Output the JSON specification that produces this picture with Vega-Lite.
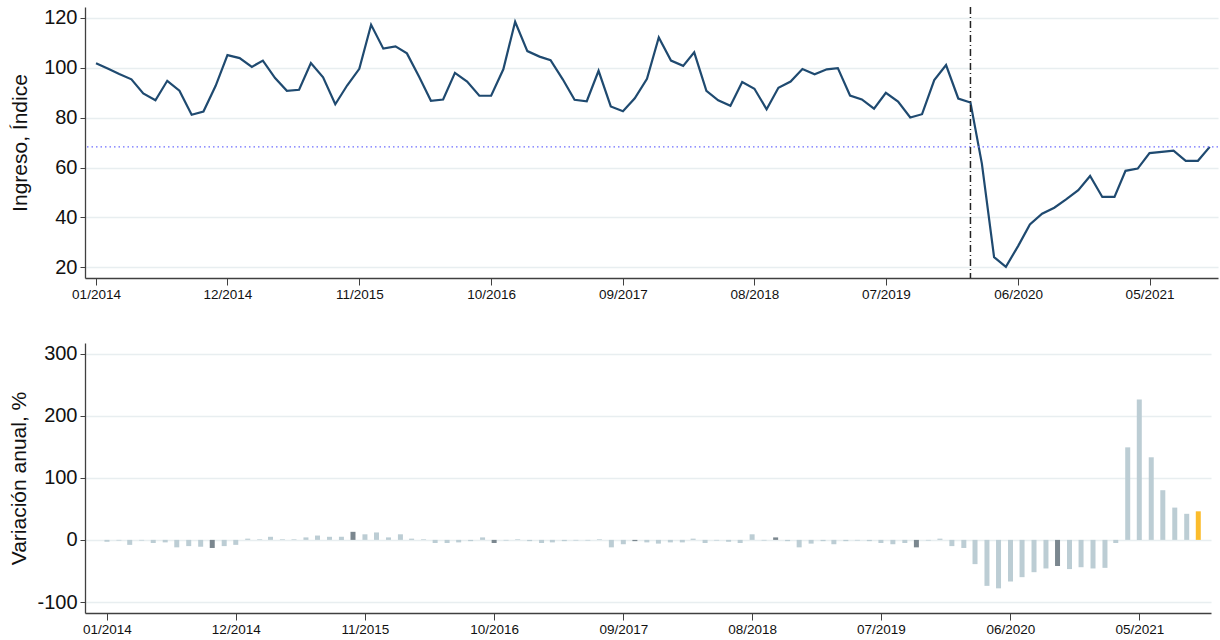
{
  "$schema": "https://vega.github.io/schema/vega-lite/v6.json",
  "background": "white",
  "padding": {"left": 8, "top": 6, "right": 2, "bottom": 0},
  "columns": 1,
  "align": "none",
  "center": true,
  "spacing": 42,
  "config": {
    "font": "Liberation Sans",
    "view": {"stroke": null},
    "axis": {
      "domainColor": "#404040",
      "tickColor": "#404040",
      "labelColor": "#111111",
      "titleColor": "#111111",
      "gridColor": "#e8eef0",
      "gridWidth": 1.5,
      "labelFont": "Liberation Sans",
      "titleFont": "Liberation Sans",
      "titleFontWeight": "normal"
    }
  },
  "data": {
    "format": {"parse": {"fecha": "date:'%Y-%m'"}},
    "values": [
      {"fecha": "2014-01", "indice": 101.8, "var": -3, "grupo": "mes"},
      {"fecha": "2014-02", "indice": 99.6, "var": -1, "grupo": "mes"},
      {"fecha": "2014-03", "indice": 97.5, "var": -8, "grupo": "mes"},
      {"fecha": "2014-04", "indice": 95.4, "var": -1, "grupo": "mes"},
      {"fecha": "2014-05", "indice": 89.7, "var": -5, "grupo": "mes"},
      {"fecha": "2014-06", "indice": 87.0, "var": -4, "grupo": "mes"},
      {"fecha": "2014-07", "indice": 94.8, "var": -12, "grupo": "mes"},
      {"fecha": "2014-08", "indice": 90.8, "var": -10, "grupo": "mes"},
      {"fecha": "2014-09", "indice": 81.2, "var": -11, "grupo": "mes"},
      {"fecha": "2014-10", "indice": 82.5, "var": -13, "grupo": "octubre"},
      {"fecha": "2014-11", "indice": 92.8, "var": -10, "grupo": "mes"},
      {"fecha": "2014-12", "indice": 105.1, "var": -8, "grupo": "mes"},
      {"fecha": "2015-01", "indice": 103.9, "var": 2, "grupo": "mes"},
      {"fecha": "2015-02", "indice": 100.4, "var": 1, "grupo": "mes"},
      {"fecha": "2015-03", "indice": 102.9, "var": 5, "grupo": "mes"},
      {"fecha": "2015-04", "indice": 95.9, "var": 1, "grupo": "mes"},
      {"fecha": "2015-05", "indice": 90.8, "var": 1, "grupo": "mes"},
      {"fecha": "2015-06", "indice": 91.2, "var": 4, "grupo": "mes"},
      {"fecha": "2015-07", "indice": 101.9, "var": 7, "grupo": "mes"},
      {"fecha": "2015-08", "indice": 96.2, "var": 5, "grupo": "mes"},
      {"fecha": "2015-09", "indice": 85.4, "var": 5, "grupo": "mes"},
      {"fecha": "2015-10", "indice": 92.9, "var": 13, "grupo": "octubre"},
      {"fecha": "2015-11", "indice": 99.6, "var": 9, "grupo": "mes"},
      {"fecha": "2015-12", "indice": 117.3, "var": 12, "grupo": "mes"},
      {"fecha": "2016-01", "indice": 107.7, "var": 4, "grupo": "mes"},
      {"fecha": "2016-02", "indice": 108.6, "var": 9, "grupo": "mes"},
      {"fecha": "2016-03", "indice": 105.8, "var": 2, "grupo": "mes"},
      {"fecha": "2016-04", "indice": 96.4, "var": 1, "grupo": "mes"},
      {"fecha": "2016-05", "indice": 86.8, "var": -5, "grupo": "mes"},
      {"fecha": "2016-06", "indice": 87.3, "var": -5, "grupo": "mes"},
      {"fecha": "2016-07", "indice": 98.0, "var": -4, "grupo": "mes"},
      {"fecha": "2016-08", "indice": 94.5, "var": -2, "grupo": "mes"},
      {"fecha": "2016-09", "indice": 88.8, "var": 4, "grupo": "mes"},
      {"fecha": "2016-10", "indice": 88.8, "var": -5, "grupo": "octubre"},
      {"fecha": "2016-11", "indice": 99.4, "var": -1, "grupo": "mes"},
      {"fecha": "2016-12", "indice": 118.5, "var": 1, "grupo": "mes"},
      {"fecha": "2017-01", "indice": 106.7, "var": -2, "grupo": "mes"},
      {"fecha": "2017-02", "indice": 104.5, "var": -5, "grupo": "mes"},
      {"fecha": "2017-03", "indice": 103.1, "var": -4, "grupo": "mes"},
      {"fecha": "2017-04", "indice": 95.4, "var": -2, "grupo": "mes"},
      {"fecha": "2017-05", "indice": 87.2, "var": -1, "grupo": "mes"},
      {"fecha": "2017-06", "indice": 86.6, "var": -1, "grupo": "mes"},
      {"fecha": "2017-07", "indice": 98.8, "var": 1, "grupo": "mes"},
      {"fecha": "2017-08", "indice": 84.5, "var": -12, "grupo": "mes"},
      {"fecha": "2017-09", "indice": 82.6, "var": -7, "grupo": "mes"},
      {"fecha": "2017-10", "indice": 87.8, "var": -2, "grupo": "octubre"},
      {"fecha": "2017-11", "indice": 95.6, "var": -4, "grupo": "mes"},
      {"fecha": "2017-12", "indice": 112.2, "var": -6, "grupo": "mes"},
      {"fecha": "2018-01", "indice": 102.9, "var": -4, "grupo": "mes"},
      {"fecha": "2018-02", "indice": 100.8, "var": -4, "grupo": "mes"},
      {"fecha": "2018-03", "indice": 106.2, "var": 2, "grupo": "mes"},
      {"fecha": "2018-04", "indice": 90.8, "var": -5, "grupo": "mes"},
      {"fecha": "2018-05", "indice": 87.0, "var": -1, "grupo": "mes"},
      {"fecha": "2018-06", "indice": 84.8, "var": -3, "grupo": "mes"},
      {"fecha": "2018-07", "indice": 94.3, "var": -5, "grupo": "mes"},
      {"fecha": "2018-08", "indice": 91.6, "var": 9, "grupo": "mes"},
      {"fecha": "2018-09", "indice": 83.4, "var": -1, "grupo": "mes"},
      {"fecha": "2018-10", "indice": 92.0, "var": 4, "grupo": "octubre"},
      {"fecha": "2018-11", "indice": 94.5, "var": -2, "grupo": "mes"},
      {"fecha": "2018-12", "indice": 99.5, "var": -12, "grupo": "mes"},
      {"fecha": "2019-01", "indice": 97.4, "var": -6, "grupo": "mes"},
      {"fecha": "2019-02", "indice": 99.4, "var": -2, "grupo": "mes"},
      {"fecha": "2019-03", "indice": 99.9, "var": -7, "grupo": "mes"},
      {"fecha": "2019-04", "indice": 88.9, "var": -2, "grupo": "mes"},
      {"fecha": "2019-05", "indice": 87.3, "var": -1, "grupo": "mes"},
      {"fecha": "2019-06", "indice": 83.6, "var": -2, "grupo": "mes"},
      {"fecha": "2019-07", "indice": 90.0, "var": -5, "grupo": "mes"},
      {"fecha": "2019-08", "indice": 86.5, "var": -7, "grupo": "mes"},
      {"fecha": "2019-09", "indice": 80.1, "var": -5, "grupo": "mes"},
      {"fecha": "2019-10", "indice": 81.4, "var": -12, "grupo": "octubre"},
      {"fecha": "2019-11", "indice": 95.1, "var": -1, "grupo": "mes"},
      {"fecha": "2019-12", "indice": 101.1, "var": 2, "grupo": "mes"},
      {"fecha": "2020-01", "indice": 87.7, "var": -10, "grupo": "mes"},
      {"fecha": "2020-02", "indice": 86.1, "var": -13, "grupo": "mes"},
      {"fecha": "2020-03", "indice": 61.6, "var": -39, "grupo": "mes"},
      {"fecha": "2020-04", "indice": 24.1, "var": -74, "grupo": "mes"},
      {"fecha": "2020-05", "indice": 20.2, "var": -78, "grupo": "mes"},
      {"fecha": "2020-06", "indice": 28.5, "var": -67, "grupo": "mes"},
      {"fecha": "2020-07", "indice": 37.2, "var": -60, "grupo": "mes"},
      {"fecha": "2020-08", "indice": 41.5, "var": -52, "grupo": "mes"},
      {"fecha": "2020-09", "indice": 43.9, "var": -46, "grupo": "mes"},
      {"fecha": "2020-10", "indice": 47.2, "var": -42, "grupo": "octubre"},
      {"fecha": "2020-11", "indice": 50.9, "var": -47, "grupo": "mes"},
      {"fecha": "2020-12", "indice": 56.6, "var": -44, "grupo": "mes"},
      {"fecha": "2021-01", "indice": 48.2, "var": -46, "grupo": "mes"},
      {"fecha": "2021-02", "indice": 48.2, "var": -45, "grupo": "mes"},
      {"fecha": "2021-03", "indice": 58.7, "var": -5, "grupo": "mes"},
      {"fecha": "2021-04", "indice": 59.6, "var": 149, "grupo": "mes"},
      {"fecha": "2021-05", "indice": 65.8, "var": 226, "grupo": "mes"},
      {"fecha": "2021-06", "indice": 66.3, "var": 133, "grupo": "mes"},
      {"fecha": "2021-07", "indice": 66.8, "var": 80, "grupo": "mes"},
      {"fecha": "2021-08", "indice": 62.7, "var": 52, "grupo": "mes"},
      {"fecha": "2021-09", "indice": 62.7, "var": 42, "grupo": "mes"},
      {"fecha": "2021-10", "indice": 68.3, "var": 46, "grupo": "actual"}
    ]
  },
  "concat": [
    {
      "width": 1133,
      "height": 271,
      "layer": [
        {
          "mark": {"type": "line", "color": "#1f4a70", "strokeWidth": 2.2},
          "encoding": {
            "x": {
              "field": "fecha", "type": "temporal",
              "scale": {"domain": [{"year": 2013, "month": 12, "date": 4}, {"year": 2021, "month": 10, "date": 22}], "nice": false},
              "axis": {
                "title": null, "format": "%m/%Y", "grid": false,
                "values": [
                  {"year": 2014, "month": 1, "date": 1}, {"year": 2014, "month": 12, "date": 1},
                  {"year": 2015, "month": 11, "date": 1}, {"year": 2016, "month": 10, "date": 1},
                  {"year": 2017, "month": 9, "date": 1}, {"year": 2018, "month": 8, "date": 1},
                  {"year": 2019, "month": 7, "date": 1}, {"year": 2020, "month": 6, "date": 1},
                  {"year": 2021, "month": 5, "date": 1}
                ],
                "labelFontSize": 13.5, "tickSize": 7, "labelPadding": 2, "domainWidth": 1.3, "labelFlush": false, "labelOverlap": false
              }
            },
            "y": {
              "field": "indice", "type": "quantitative",
              "scale": {"domain": [15.7, 124.4], "nice": false, "zero": false},
              "axis": {
                "title": "Ingreso, Índice", "titleFontSize": 21, "titlePadding": 13,
                "values": [20, 40, 60, 80, 100, 120],
                "labelFontSize": 20, "tickSize": 5, "labelPadding": 3, "domainWidth": 1.3
              }
            }
          }
        },
        {
          "data": {"values": [{"ultimo": 68.3}]},
          "mark": {"type": "rule", "color": "#6f6fff", "strokeWidth": 1.3, "strokeDash": [1.5, 3]},
          "encoding": {"y": {"field": "ultimo", "type": "quantitative"}}
        },
        {
          "data": {"values": [{"inicio": "2020-02"}], "format": {"parse": {"inicio": "date:'%Y-%m'"}}},
          "mark": {"type": "rule", "color": "#222222", "strokeWidth": 1.5, "strokeDash": [7, 3, 1, 3]},
          "encoding": {"x": {"field": "inicio", "type": "temporal"}}
        }
      ]
    },
    {
      "width": 1126,
      "height": 270,
      "mark": {"type": "bar", "size": 5},
      "encoding": {
        "x": {
          "field": "fecha", "type": "temporal",
          "scale": {"domain": [{"year": 2013, "month": 11, "date": 18}, {"year": 2021, "month": 10, "date": 21}], "nice": false},
          "axis": {
            "title": null, "format": "%m/%Y", "grid": false,
            "values": [
              {"year": 2014, "month": 1, "date": 1}, {"year": 2014, "month": 12, "date": 1},
              {"year": 2015, "month": 11, "date": 1}, {"year": 2016, "month": 10, "date": 1},
              {"year": 2017, "month": 9, "date": 1}, {"year": 2018, "month": 8, "date": 1},
              {"year": 2019, "month": 7, "date": 1}, {"year": 2020, "month": 6, "date": 1},
              {"year": 2021, "month": 5, "date": 1}
            ],
            "labelFontSize": 13.5, "tickSize": 7, "labelPadding": 2, "domainWidth": 1.3, "labelFlush": false, "labelOverlap": false
          }
        },
        "y": {
          "field": "var", "type": "quantitative",
          "scale": {"domain": [-117.7, 317], "nice": false, "zero": false},
          "axis": {
            "title": "Variación anual, %", "titleFontSize": 21, "titlePadding": 7,
            "values": [-100, 0, 100, 200, 300],
            "labelExpr": "'' + datum.value",
            "labelFontSize": 20, "tickSize": 5, "labelPadding": 3, "domainWidth": 1.3
          }
        },
        "color": {
          "field": "grupo", "type": "nominal",
          "scale": {"domain": ["mes", "octubre", "actual"], "range": ["#bccdd4", "#7b878f", "#fbbc2c"]},
          "legend": null
        }
      }
    }
  ]
}
